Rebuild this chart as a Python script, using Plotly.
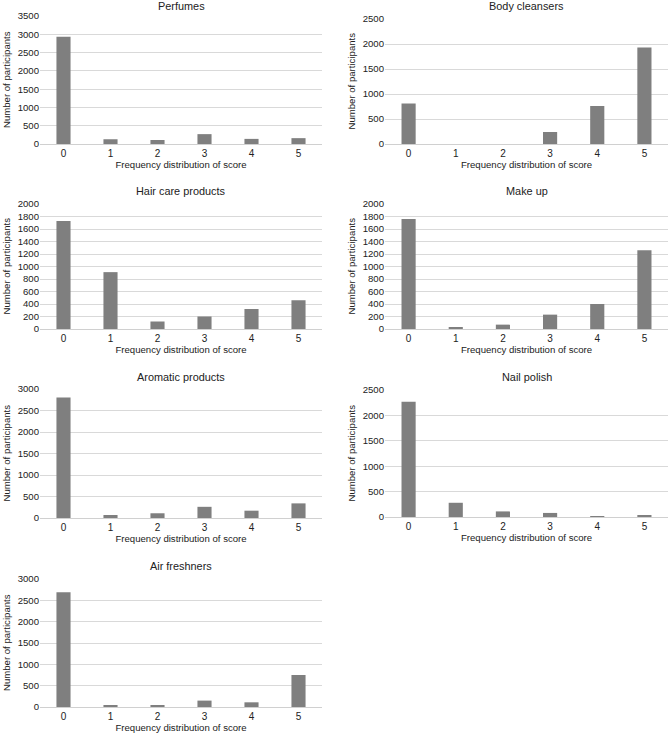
import plotly.graph_objects as go

scores = ["0", "1", "2", "3", "4", "5"]

titles = ["Perfumes", "Body cleansers", "Hair care products", "Make up",
          "Aromatic products", "Nail polish", "Air freshners"]

perfumes = [2930, 130, 110, 270, 140, 160]
body_cleansers = [810, 0, 0, 240, 760, 1930]
hair_care = [1730, 910, 120, 200, 320, 460]
make_up = [1760, 30, 70, 230, 400, 1260]
aromatic = [2800, 70, 110, 260, 170, 340]
nail_polish = [2270, 280, 110, 80, 15, 25]
air_freshners = [2690, 30, 40, 150, 110, 750]

series = [perfumes, body_cleansers, hair_care, make_up, aromatic, nail_polish, air_freshners]

y_max = [3500, 2500, 2000, 2000, 3000, 2500, 3000]
y_step = [500, 500, 200, 200, 500, 500, 500]

W, H = 669, 734
# pixel boxes (left, right, top, bottom)
boxes = [
    (40, 322, 16, 144),
    (385, 668, 19, 144),
    (40, 322, 204, 329),
    (385, 668, 204, 329),
    (40, 322, 389, 518),
    (385, 668, 390, 517),
    (40, 322, 579, 707),
]
title_y = [6, 6, 191, 191, 377, 377, 566]

FONT = "Liberation Sans, Arial, sans-serif"
TXT = "#222"
fig = go.Figure()
annotations = []
for i, (vals, box) in enumerate(zip(series, boxes)):
    n = i + 1
    xa = "x" if n == 1 else f"x{n}"
    ya = "y" if n == 1 else f"y{n}"
    fig.add_trace(go.Bar(x=scores, y=vals, xaxis=xa, yaxis=ya,
                         marker=dict(color="#7f7f7f", line=dict(width=0)),
                         showlegend=False, hoverinfo="x+y"))
    l, r, t, b = box
    xd = [l / W, r / W]
    yd = [1 - b / H, 1 - t / H]
    xkey = "xaxis" if n == 1 else f"xaxis{n}"
    ykey = "yaxis" if n == 1 else f"yaxis{n}"
    fig.update_layout(**{
        xkey: dict(domain=xd, anchor=ya, type="category", showgrid=False,
                   showline=True, linecolor="#d0d0d0", linewidth=1, ticks="",
                   tickfont=dict(size=10, color=TXT), automargin=False,
                   title=dict(text="Frequency distribution of score",
                              font=dict(size=9.6, color=TXT), standoff=0),
                   fixedrange=True),
        ykey: dict(domain=yd, anchor=xa, range=[0, y_max[i]], dtick=y_step[i],
                   tick0=0, showgrid=True, gridcolor="#d9d9d9", gridwidth=1,
                   zeroline=False, showline=False, ticks="", automargin=False,
                   tickfont=dict(size=9.6, color=TXT),
                   fixedrange=True),
    })
    annotations.append(dict(text=titles[i], x=(l + r) / 2 / W, y=1 - title_y[i] / H,
                            xref="paper", yref="paper", xanchor="center",
                            yanchor="middle", showarrow=False,
                            font=dict(size=10.9, color=TXT, family=FONT)))
    annotations.append(dict(text="Number of participants", x=(l - 34) / W,
                            y=1 - (t + b) / 2 / H, xref="paper", yref="paper",
                            xanchor="center", yanchor="middle", textangle=-90,
                            showarrow=False,
                            font=dict(size=9.6, color=TXT, family=FONT)))

fig.update_layout(width=W, height=H, margin=dict(l=0, r=0, t=0, b=0, autoexpand=False),
                  paper_bgcolor="white", plot_bgcolor="white",
                  bargap=0.7, font=dict(family=FONT, size=10, color=TXT),
                  annotations=annotations)

fig.write_html("out.html", config={"displayModeBar": False},
               post_script="document.body.style.margin='0';document.body.style.overflow='hidden';")
